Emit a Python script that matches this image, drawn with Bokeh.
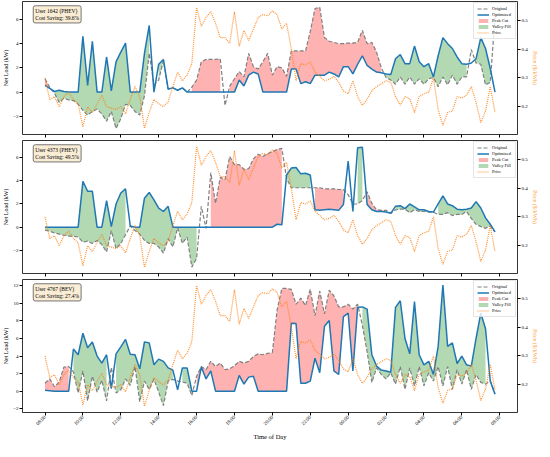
import math
from bokeh.plotting import figure
from bokeh.models import Range1d, LinearAxis, FixedTicker, Legend, LegendItem, Label
from bokeh.layouts import column
from bokeh.embed import file_html
from bokeh.resources import INLINE

FONT = "Liberation Serif"

# ---------------- data ----------------
slot_hours = [i / 4 for i in range(96)]          # 15-min slots starting 08:00
tick_hours = [0, 2, 4, 6, 8, 10, 12, 14, 16, 18, 20, 22, 24]
tick_labels = ["08:00", "10:00", "12:00", "14:00", "16:00", "18:00", "20:00",
               "22:00", "00:00", "02:00", "04:00", "06:00", "08:00"]

price = [0.30, 0.225, 0.235, 0.20, 0.235, 0.25, 0.225, 0.21, 0.13, 0.20, 0.18, 0.21,
         0.24, 0.20, 0.195, 0.19, 0.20, 0.175, 0.225, 0.27, 0.235, 0.125, 0.18, 0.225,
         0.21, 0.20, 0.217, 0.27, 0.32, 0.29, 0.31, 0.35, 0.545, 0.48, 0.51, 0.53,
         0.49, 0.44, 0.44, 0.42, 0.53, 0.41, 0.465, 0.43, 0.47, 0.51, 0.52, 0.515,
         0.533, 0.52, 0.47, 0.49, 0.40, 0.29, 0.35, 0.345, 0.355, 0.32, 0.305, 0.29,
         0.295, 0.305, 0.285, 0.255, 0.245, 0.29, 0.235, 0.205, 0.225, 0.255, 0.27, 0.28,
         0.29, 0.285, 0.235, 0.205, 0.235, 0.228, 0.18, 0.235, 0.245, 0.25, 0.30, 0.19,
         0.135, 0.18, 0.185, 0.235, 0.23, 0.24, 0.27, 0.215, 0.145, 0.185, 0.27, 0.18]

orig_1642 = [1.1, 0.4, -0.1, -0.85, -0.5, -0.65, -0.7, -1.0, -1.5, -1.9, -1.6, -1.4,
             -1.8, -2.4, -1.6, -3.0, -2.2, -1.0, -1.1, -1.6, -1.9, -0.3, 3.2, 0.6,
             1.0, 2.6, 0.25, 0.35, 0.15, 0.35, 0.0, 0.4, 1.0, 2.5, 2.7, 2.7,
             2.7, 2.75, -1.1, 0.5, 1.1, 1.7, 1.25, 3.2, 2.1, 1.9, 2.5, 3.2,
             1.4, 2.1, 2.0, 1.3, 3.4, 3.4, 3.4, 3.4, 5.0, 6.9, 7.0, 4.5,
             4.2, 4.1, 4.0, 4.0, 4.05, 4.05, 4.1, 5.1, 4.0, 4.1, 3.3, 2.0,
             1.2, 1.0, 0.65, 1.25, 0.65, 1.25, 0.65, 1.1, 0.65, 1.1, 1.2, 0.45,
             1.25, 0.6, 1.4, 0.65, 1.25, 1.25, 3.5, 2.4, 2.3, 0.6, 0.8, 6.2]
opt_1642 = [0.55, 0.3, 0.05, 0.15, 0.05, 0, 0, 0, 4.6, 0.55, 4.2, 0,
            0, 2.9, 0.1, 2.5, 3.3, 4.05, 0, 0, 0, 3.2, 5.5, 0,
            2.3, 2.7, 0.25, 0.35, 0.15, 0.35, 0, 0, 0, 0, 0, 0,
            0, 0, 0, 0, 0, 1.0, 0.5, 1.4, 1.65, 1.5, 0, 0,
            0, 0, 0, 0, 1.9, 1.9, 0.7, 0.85, 0.7, 1.4, 1.4, 1.4,
            1.65, 1.5, 1.25, 2.1, 2.1, 1.5, 2.3, 3.0, 2.2, 1.9, 1.65, 1.6,
            1.5, 1.45, 2.75, 3.1, 2.35, 2.35, 3.8, 2.5, 2.1, 2.35, 1.25, 3.0,
            4.5, 4.0, 3.6, 2.9, 2.35, 2.3, 2.4, 2.75, 4.5, 3.6, 1.95, 0]

orig_4373 = [-0.25, -0.35, -0.5, -0.6, -0.7, -0.78, -0.78, -0.85, -1.3, -1.2, -1.4, -1.15,
             -1.5, -2.15, -0.3, -1.85, -1.4, -0.65, 0.1, -0.3, -0.6, -1.15, -1.4, -1.4,
             -1.7, -2.25, -1.0, -1.7, -0.05, -1.4, -0.85, -3.45, -2.7, 1.8, -0.1, 4.7,
             2.05, 4.3, 4.1, 6.1, 5.4, 5.4, 5.0, 5.05, 5.9, 6.3, 6.1, 6.35,
             6.5, 6.7, 6.8, 4.2, 3.4, 3.4, 3.4, 3.4, 3.4, 3.4, 3.4, 3.3,
             3.3, 3.3, 3.25, 3.25, 2.8, 2.0, 2.0, 2.3, 3.05, 2.05, 1.5, 1.45,
             1.45, 1.2, 1.5, 1.55, 1.55, 1.25, 1.5, 1.35, 1.35, 1.3, 1.3, 1.1,
             1.1, 1.25, 1.0, 1.1, 1.1, 1.35, 0.75, 0.25, 0.05, -0.1, 0.1, -0.4]
opt_4373 = [0, 0, 0, 0, 0, 0, 0, 0, 3.95, 3.1, 3.1, 0,
            0, 2.3, 0.05, 2.0, 2.95, 3.3, 0.1, 0, 0, 2.5, 3.0, 2.35,
            1.65, 1.35, 1.8, 0, 0, 0, 0, 0, 0, 0, 0, 0,
            0, 0, 0, 0, 0, 0, 0, 0, 0, 0, 0, 0,
            0, 0.25, 0.2, 4.5, 5.1, 5.15, 4.6, 4.65, 4.5, 1.5, 1.45, 1.5,
            1.55, 1.5, 1.45, 1.95, 5.7, 1.35, 6.85, 6.9, 1.95, 1.5, 1.35, 1.35,
            1.3, 1.2, 1.8, 1.85, 1.6, 2.0, 1.75, 1.5, 1.5, 1.35, 1.3, 2.0,
            2.7, 2.0, 1.85, 1.55, 1.5, 1.55, 1.65, 2.2, 1.65, 0.8, 0.25, -0.4]

orig_4767 = [0.9, 1.4, 0.5, 1.05, 2.75, 2.8, 2.2, -0.2, 2.3, -1.1, 1.7, -0.1,
             1.25, -1.1, 2.7, -0.2, 0.15, 1.4, 0.65, 2.8, -1.2, 1.15, 0.2, 1.35,
             -0.1, -1.65, 1.15, 1.35, 1.15, 1.05, 0.9, -0.5, 1.7, 2.8, 2.45, 3.4,
             2.8, 3.2, 2.45, 2.55, 2.9, 3.4, 3.2, 3.4, 3.95, 4.25, 4.15, 4.3,
             4.4, 9.25, 11.7, 11.7, 11.6, 9.9, 10.6, 9.75, 11.6, 8.6, 11.4, 8.8,
             11.5, 10.85, 9.6, 9.6, 9.9, 9.35, 9.9, 7.5, 4.5, 1.0, 2.65, 1.9,
             1.4, 2.1, 0.8, 2.8, 0.2, 2.65, 0.6, 2.8, 0.6, 2.1, 1.15, 2.8,
             0.6, 2.8, 0.2, 2.45, 0.8, 2.45, 0.2, 1.9, 1.0, 0.8, 1.2, -0.3]
opt_4767 = [0.1, 0.05, 0, 0, 0, 0, 4.8, 4.15, 6.6, 4.95, 5.6, 4.0,
            3.2, 4.15, 0.3, 4.25, 5.05, 5.9, 4.2, 4.15, 2.55, 5.6, 5.5, 3.0,
            3.65, 3.4, 2.65, 2.4, 0.15, 2.65, 2.65, 0, 0, 2.75, 1.4, 2.3,
            0, 0, 0, 0, 0, 1.8, 0.8, 1.6, 1.7, 0, 0, 0,
            0, 0, 0, 0, 7.75, 7.7, 0.9, 0.9, 1.15, 3.75, 2.1, 7.4,
            8.05, 2.3, 1.9, 8.5, 8.9, 2.3, 9.55, 9.6, 9.35, 4.15, 2.85, 2.4,
            2.3, 2.15, 9.55, 10.3, 6.0, 4.25, 10.2, 4.15, 3.0, 3.4, 1.9, 5.1,
            12.1, 5.1, 5.5, 3.15, 4.0, 3.0, 2.85, 6.0, 8.9, 7.1, 1.15, -0.35]

users = ["User 1642 (PHEV)", "User 4373 (PHEV)", "User 4767 (BEV)"]
savings = ["39.6%", "49.5%", "27.4%"]
load_limits = [(-3.5, 7.48), (-4.0, 7.48), (-2.43, 12.72)]
load_ticks = [[-2, 0, 2, 4, 6], [-2, 0, 2, 4, 6], [-2, 0, 2, 4, 6, 8, 10, 12]]
price_limits = (0.1034, 0.5655)
price_ticks = [0.2, 0.3, 0.4, 0.5]

# ---------------- layout constants ----------------
FRAME_W = 495
FRAME_H = 133
X_RANGE = (-1.1875, 24.9375)


def fill_runs(upper, lower):
    """Polygons where upper > lower over runs of >= 2 consecutive samples."""
    xs, ys = [], []
    n = len(upper)
    i = 0
    while i < n:
        if upper[i] > lower[i]:
            j = i
            while j < n and upper[j] > lower[j]:
                j += 1
            if j - i >= 2:
                seg = list(range(i, j))
                xs.append([slot_hours[k] for k in seg] + [slot_hours[k] for k in reversed(seg)])
                ys.append([upper[k] for k in seg] + [lower[k] for k in reversed(seg)])
            i = j
        else:
            i += 1
    return xs, ys


def make_panel(orig, opt, idx, bottom):
    ylo, yhi = load_limits[idx]
    p = figure(frame_width=FRAME_W, frame_height=FRAME_H,
               x_range=Range1d(*X_RANGE), y_range=Range1d(ylo, yhi),
               output_backend="svg", toolbar_location=None,
               min_border_left=18, min_border_right=21, min_border_top=1,
               min_border_bottom=27 if bottom else 5)
    p.extra_y_ranges = {"price": Range1d(*price_limits)}
    p.grid.visible = False
    p.outline_line_color = "black"
    p.outline_line_width = 0.8
    p.background_fill_color = "white"
    p.border_fill_color = "white"

    rx, ry = fill_runs(orig, opt)
    gx, gy = fill_runs(opt, orig)
    r_red = p.patches(rx, ry, fill_color="red", fill_alpha=0.3, line_color=None)
    r_green = p.patches(gx, gy, fill_color="green", fill_alpha=0.3, line_color=None)
    r_orig = p.line(slot_hours, orig, line_color="gray", line_dash="4 2", line_width=1.2)
    r_opt = p.line(slot_hours, opt, line_color="#1f77b4", line_width=1.5)
    r_price = p.line(slot_hours, price, y_range_name="price", line_color="#ff7f0e",
                     line_alpha=0.85, line_dash="1 1", line_width=1.2)

    # left axis
    ya = p.yaxis[0]
    ya.ticker = FixedTicker(ticks=load_ticks[idx])
    ya.major_label_overrides = {t: (str(t) if t >= 0 else "\u2212" + str(-t)) for t in load_ticks[idx]}
    ya.axis_label = "Net Load (kW)"
    ya.axis_label_text_font = FONT
    ya.axis_label_text_font_size = "6px"
    ya.axis_label_text_font_style = "normal"
    ya.axis_label_text_color = "black"
    ya.axis_label_standoff = 1
    ya.major_label_text_font = FONT
    ya.major_label_text_font_size = "5px"
    ya.major_label_text_color = "black"
    ya.major_label_standoff = 1
    ya.major_tick_out = 3
    ya.major_tick_in = 0
    ya.major_tick_line_color = "black"
    ya.minor_tick_line_color = None
    ya.axis_line_color = None

    # right axis
    ra = LinearAxis(y_range_name="price", ticker=FixedTicker(ticks=price_ticks),
                    axis_label="Price ($/kWh)")
    ra.axis_label_text_color = "#ffa23f"
    ra.axis_label_text_font = FONT
    ra.axis_label_text_font_size = "6px"
    ra.axis_label_text_font_style = "normal"
    ra.axis_label_standoff = 1
    ra.major_label_text_font = FONT
    ra.major_label_text_font_size = "5px"
    ra.major_label_text_color = "black"
    ra.major_label_standoff = 1
    ra.major_tick_out = 3
    ra.major_tick_in = 0
    ra.major_tick_line_color = "black"
    ra.minor_tick_line_color = None
    ra.axis_line_color = None
    p.add_layout(ra, "right")

    # x axis
    xa = p.xaxis[0]
    xa.ticker = FixedTicker(ticks=tick_hours)
    xa.major_tick_out = 3
    xa.major_tick_in = 0
    xa.major_tick_line_color = "black"
    xa.minor_tick_line_color = None
    xa.axis_line_color = None
    if bottom:
        xa.major_label_overrides = {t: lab for t, lab in zip(tick_hours, tick_labels)}
        xa.major_label_orientation = math.pi / 4
        xa.major_label_text_font = FONT
        xa.major_label_text_font_size = "5px"
        xa.major_label_text_color = "black"
        xa.major_label_standoff = 1
        xa.axis_label = "Time of Day"
        xa.axis_label_text_font = FONT
        xa.axis_label_text_font_size = "6.5px"
        xa.axis_label_text_font_style = "normal"
        xa.axis_label_text_color = "black"
        xa.axis_label_standoff = 2
    else:
        xa.major_label_overrides = {t: "" for t in tick_hours}
        xa.major_label_text_font_size = "1px"
        xa.major_label_standoff = 0

    # user annotation
    span = yhi - ylo
    p.add_layout(Label(x=-0.62, y=yhi - 0.032 * span,
                       text=users[idx] + "\nCost Saving: " + savings[idx],
                       text_align="left", text_baseline="top",
                       text_font=FONT, text_font_size="5.5px", text_color="black",
                       background_fill_color="#f5deb3", background_fill_alpha=0.55,
                       border_line_color="#555555", border_line_width=0.8,
                       padding=2, border_radius=2))

    legend = Legend(items=[
        LegendItem(label="Original", renderers=[r_orig]),
        LegendItem(label="Optimized", renderers=[r_opt]),
        LegendItem(label="Peak Cut", renderers=[r_red]),
        LegendItem(label="Valley Fill", renderers=[r_green]),
        LegendItem(label="Price", renderers=[r_price]),
    ], location="top_right")
    legend.label_text_font = FONT
    legend.label_text_font_size = "4.5px"
    legend.label_text_color = "black"
    legend.glyph_width = 12
    legend.glyph_height = 5
    legend.label_height = 5
    legend.label_standoff = 3
    legend.spacing = 1
    legend.padding = 3
    legend.margin = 1
    legend.border_line_color = "#cccccc"
    legend.border_line_width = 0.8
    legend.background_fill_alpha = 0.8
    p.add_layout(legend)
    return p


p1 = make_panel(orig_1642, opt_1642, 0, False)
p2 = make_panel(orig_4373, opt_4373, 1, False)
p3 = make_panel(orig_4767, opt_4767, 2, True)
p2.x_range = p1.x_range
p3.x_range = p1.x_range

layout = column(p1, p2, p3, spacing=0)
open("out.html", "w").write(file_html(layout, INLINE))
